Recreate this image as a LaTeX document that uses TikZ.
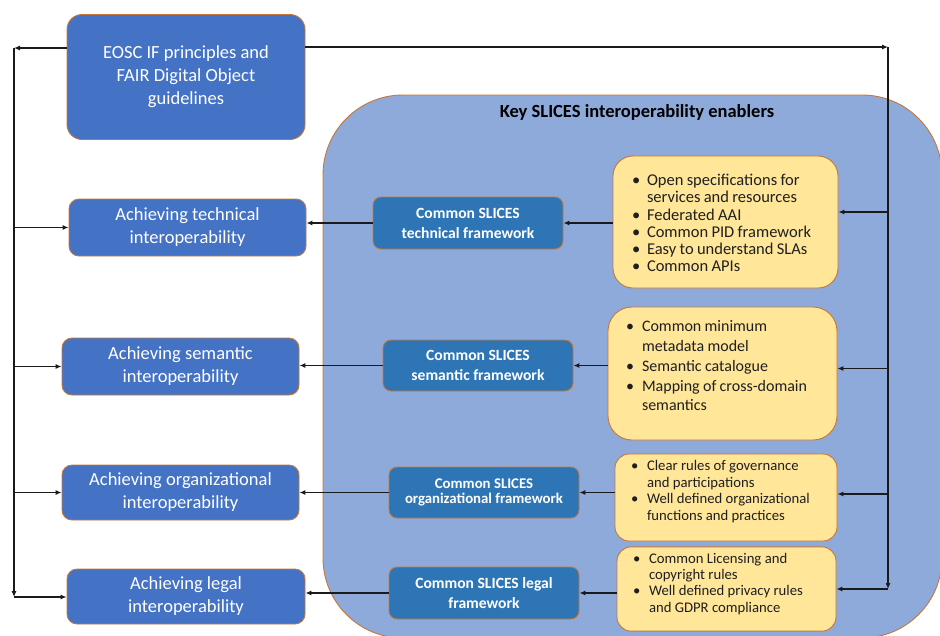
\documentclass[tikz,border=0pt]{standalone}
\usepackage{fontspec}
\setmainfont{Carlito}
\usetikzlibrary{arrows.meta,positioning,calc}
\definecolor{cGoal}{HTML}{4472C4}
\definecolor{cFwk} {HTML}{2E75B6}
\definecolor{cPane}{HTML}{8EAADB}
\definecolor{cNote}{HTML}{FFE699}
\definecolor{cEdge}{HTML}{C5773A}
\definecolor{cLine}{HTML}{1A1A1A}
% bullet list for the yellow boxes: #1 = bullet indent, #2 = text indent
\newenvironment{blist}[2]{%
  \begin{list}{\textbullet}{\setlength\leftmargin{#2}\setlength\labelwidth{0pt}%
    \setlength\labelsep{\dimexpr#2-#1\relax}\setlength\itemsep{0pt}%
    \setlength\parsep{0pt}\setlength\topsep{0pt}\setlength\partopsep{0pt}%
    \renewcommand\makelabel[1]{\rlap{##1}}}}{\end{list}}
\newcommand\padbelow[1]{\rule[-#1]{0pt}{#1}}
\tikzset{
  goal/.style ={draw=cEdge,fill=cGoal,text=white,rounded corners=10pt,align=center,
                line width=0.9pt,inner sep=0pt,font=\fontsize{18.5}{23}\selectfont},
  fwk/.style  ={draw=cEdge,fill=cFwk,text=white,rounded corners=8pt,align=center,
                line width=0.9pt,inner sep=0pt,minimum width=190pt,minimum height=51pt,
                font=\bfseries\fontsize{15.6}{20}\selectfont},
  note/.style ={draw=cEdge,fill=cNote,text=black!88,align=left,inner sep=0pt,
                line width=0.9pt},
  pane/.style ={draw=cEdge,fill=cPane,rounded corners=80pt,line width=0.9pt,inner sep=0pt},
  sig/.style  ={-{Latex[length=6pt,width=5pt]},draw=cLine,line width=1.1pt},
}

\begin{document}
\begin{tikzpicture}[x=1pt, y=-1pt]
\useasboundingbox (0,0) rectangle (940,635);

% ===== enclosing pane ======================================================
\node[pane,minimum width=619pt,minimum height=543pt] (pane) at (632.5,366.5) {};
\node[font=\bfseries\fontsize{18.5}{21}\selectfont] (title) at (637,112)
  {Key SLICES interoperability enablers};

% ===== goals (left column) =================================================
\node[goal,rounded corners=15pt,minimum width=238pt,minimum height=125pt] (eosc) at (186,77)
  {EOSC IF principles and\\FAIR Digital Object\\guidelines};
\node[goal,minimum width=237pt,minimum height=57pt] (tech)  at (187.5,227.5)
  {Achieving technical\\interoperability};
\node[goal,minimum width=237pt,minimum height=57pt] (sem)   at (180.5,366.5)
  {Achieving semantic\\interoperability};
\node[goal,minimum width=237pt,minimum height=55pt] (org)   at (180.5,492.5)
  {Achieving organizational\\interoperability};
\node[goal,minimum width=238pt,minimum height=55pt] (legal) at (186,596.5)
  {Achieving legal\\interoperability};

% ===== frameworks (middle column) ==========================================
\node[fwk,minimum height=52pt] (mtech) at (468,223) {Common SLICES\\technical framework};
\node[fwk] (msem) at (478,365.5) {Common SLICES\\semantic framework};
\node[fwk,font=\bfseries\fontsize{14.8}{15}\selectfont] (morg) at (484,492.5)
  {Common SLICES\\organizational framework};
\node[fwk,minimum height=52pt] (mlegal) at (484,593) {Common SLICES legal\\framework};

% ===== enablers (yellow boxes) =============================================
\node[note,rounded corners=20pt,text width=225pt,minimum height=132pt] (yel1) at (725.5,222)
  {\fontsize{16.5}{17.3}\selectfont
   \begin{blist}{19pt}{34pt}
   \item Open specifications for\\services and resources
   \item Federated AAI
   \item Common PID framework
   \item Easy to understand SLAs
   \item Common APIs\padbelow{4pt}
   \end{blist}};
\node[note,rounded corners=24pt,text width=229pt,minimum height=133pt] (yel2) at (722.5,373.5)
  {\fontsize{16}{19.7}\selectfont
   \begin{blist}{18pt}{34pt}
   \item Common minimum\\metadata model
   \item Semantic catalogue
   \item Mapping of cross-domain\\semantics\padbelow{24pt}
   \end{blist}};
\node[note,rounded corners=14pt,text width=222pt,minimum height=81pt] (yel3) at (726,497.5)
  {\fontsize{14.7}{16.5}\selectfont
   \begin{blist}{16pt}{32pt}
   \item Clear rules of governance\\and participations
   \item Well defined organizational\\functions and practices\padbelow{21pt}
   \end{blist}};
\node[note,rounded corners=14pt,text width=219pt,minimum height=80pt] (yel4) at (726.5,589)
  {\fontsize{14.7}{16.3}\selectfont
   \begin{blist}{16pt}{32pt}
   \item Common Licensing and\\copyright rules
   \item Well defined privacy rules\\and GDPR compliance\padbelow{19pt}
   \end{blist}};

% ===== connectors ==========================================================
\coordinate (ltop) at (14,48);
\coordinate (lbot) at (14,597);
\coordinate (rtop) at (888,47);
\coordinate (rbot) at (888,589);
\draw[sig] (eosc.west |- ltop) -- (ltop);
\draw[sig] (ltop) -- (lbot);
\draw[sig] (lbot) -- (lbot -| legal.west);
\foreach \g in {tech,sem,org}
  \draw[sig] (\g.west -| ltop) -- (\g.west);
\draw[sig] (eosc.east |- rtop) -- (rtop);
\draw[sig] (rtop) -- (rbot);
\draw[sig] (rbot) -- (yel4.east);
\foreach \n/\dy in {yel1/-10,yel2/-5,yel3/-3.5}{
  \coordinate (\n in) at ($(\n.east)+(0,\dy)$);
  \draw[sig] (\n in -| rtop) -- (\n in);
}
\foreach \a/\b/\c in {yel1/mtech/tech,yel2/msem/sem,yel3/morg/org,yel4/mlegal/legal}{
  \draw[sig] (\a.west |- \b.east) -- (\b.east);
  \draw[sig] (\b.west) -- (\b.west -| \c.east);
}
\end{tikzpicture}
\end{document}
